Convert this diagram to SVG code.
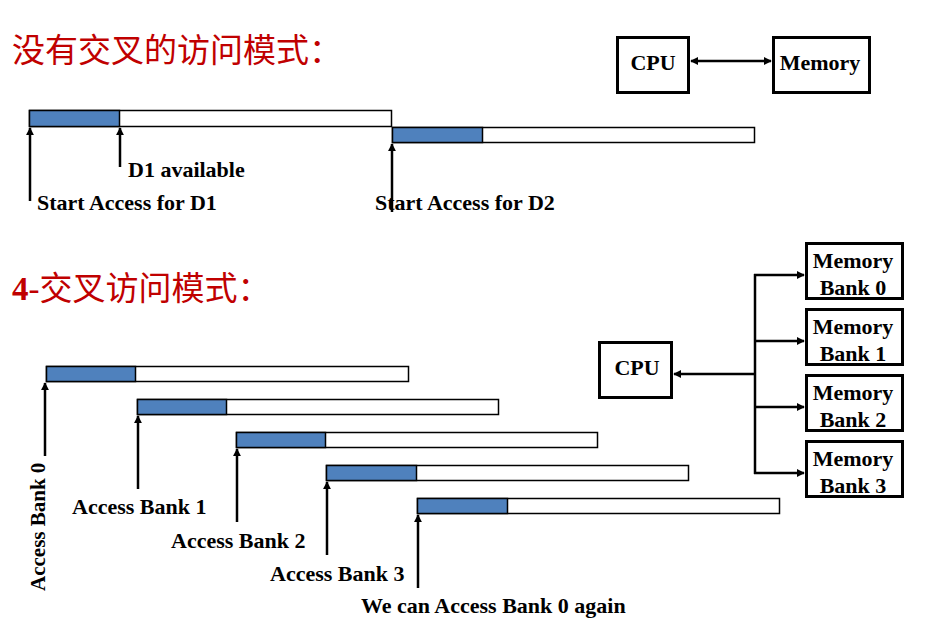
<svg xmlns="http://www.w3.org/2000/svg" width="925" height="623" viewBox="0 0 925 623">
<style>
.title{font-family:"Liberation Serif","Noto Sans CJK SC",serif;font-size:33px;fill:#C00000}
.lbl{font-family:"Liberation Serif",serif;font-size:22px;font-weight:bold;fill:#000}
.bar{fill:#fff;stroke:#000;stroke-width:1.5}
.blue{fill:#4F81BD;stroke:#000;stroke-width:1.5}
.box{fill:#fff;stroke:#000;stroke-width:3}
.ar{stroke:#000;stroke-width:2.5;fill:none;marker-end:url(#ah)}
.cn{stroke:#000;stroke-width:2.5;fill:none}
</style>
<defs>
<marker id="ah" viewBox="0 0 10 10" refX="9" refY="5" markerWidth="3.3" markerHeight="3.3" orient="auto" markerUnits="strokeWidth">
<path d="M0,0 L10,5 L0,10 Z" fill="#000"/>
</marker>
<marker id="as" viewBox="0 0 10 10" refX="1" refY="5" markerWidth="3.3" markerHeight="3.3" orient="auto" markerUnits="strokeWidth">
<path d="M10,0 L0,5 L10,10 Z" fill="#000"/>
</marker>
</defs>

<text class="title" x="12" y="62">没有交叉的访问模式：</text>
<text class="title" x="12" y="300"><tspan font-weight="bold">4</tspan>-交叉访问模式：</text>

<g id="timeline1">
<rect class="bar" x="29.5" y="110.5" width="362" height="16"/>
<rect class="blue" x="29.5" y="110.5" width="90" height="16"/>
<rect class="bar" x="392.5" y="127.5" width="362" height="15"/>
<rect class="blue" x="392.5" y="127.5" width="90" height="15"/>
</g>

<g id="timeline2">
<rect class="bar" x="46.5" y="366.5" width="362" height="15"/>
<rect class="blue" x="46.5" y="366.5" width="89" height="15"/>
<rect class="bar" x="137.5" y="399.5" width="361" height="15"/>
<rect class="blue" x="137.5" y="399.5" width="89" height="15"/>
<rect class="bar" x="236.5" y="432.5" width="361" height="15"/>
<rect class="blue" x="236.5" y="432.5" width="89" height="15"/>
<rect class="bar" x="326.5" y="465.5" width="362" height="15"/>
<rect class="blue" x="326.5" y="465.5" width="90" height="15"/>
<rect class="bar" x="417.5" y="498.5" width="362" height="15"/>
<rect class="blue" x="417.5" y="498.5" width="90" height="15"/>
</g>

<g id="cpu1"><rect class="box" x="617.5" y="37.5" width="71" height="55"/><text class="lbl" x="653" y="70" text-anchor="middle">CPU</text></g>
<g id="memory1"><rect class="box" x="773.5" y="37.5" width="96" height="55"/><text class="lbl" x="820" y="70" text-anchor="middle">Memory</text></g>

<g id="cpu2"><rect class="box" x="599.5" y="342.5" width="72" height="55"/><text class="lbl" x="637" y="375" text-anchor="middle">CPU</text></g>
<g id="bank0"><rect class="box" x="806.5" y="243.5" width="96" height="55"/><text class="lbl" x="853" y="268" text-anchor="middle">Memory</text><text class="lbl" x="853" y="295" text-anchor="middle">Bank 0</text></g>
<g id="bank1"><rect class="box" x="806.5" y="309.5" width="96" height="55"/><text class="lbl" x="853" y="334" text-anchor="middle">Memory</text><text class="lbl" x="853" y="361" text-anchor="middle">Bank 1</text></g>
<g id="bank2"><rect class="box" x="806.5" y="375.5" width="96" height="55"/><text class="lbl" x="853" y="400" text-anchor="middle">Memory</text><text class="lbl" x="853" y="427" text-anchor="middle">Bank 2</text></g>
<g id="bank3"><rect class="box" x="806.5" y="441.5" width="96" height="55"/><text class="lbl" x="853" y="466" text-anchor="middle">Memory</text><text class="lbl" x="853" y="493" text-anchor="middle">Bank 3</text></g>

<g id="connectors">
<line class="ar" x1="30" y1="201" x2="30" y2="128"/>
<line class="ar" x1="120" y1="167" x2="120" y2="128"/>
<line class="ar" x1="392" y1="212" x2="392" y2="144"/>
<line class="ar" x1="45" y1="456" x2="45" y2="383"/>
<line class="ar" x1="138" y1="489" x2="138" y2="416"/>
<line class="ar" x1="237" y1="522" x2="237" y2="449"/>
<line class="ar" x1="327" y1="555" x2="327" y2="482"/>
<line class="ar" x1="418" y1="588" x2="418" y2="515"/>
<line class="ar" x1="691" y1="61" x2="771" y2="61" style="marker-start:url(#as)"/>
<line class="cn" x1="755" y1="274" x2="755" y2="474"/>
<line class="ar" x1="754" y1="275" x2="804" y2="275"/>
<line class="ar" x1="754" y1="341" x2="804" y2="341"/>
<line class="ar" x1="754" y1="407" x2="804" y2="407"/>
<line class="ar" x1="754" y1="473" x2="804" y2="473"/>
<line class="ar" x1="756" y1="374" x2="674" y2="374"/>
</g>

<g id="labels">
<text class="lbl" x="128" y="177">D1 available</text>
<text class="lbl" x="37" y="210">Start Access for D1</text>
<text class="lbl" x="375" y="210">Start Access for D2</text>
<text class="lbl" transform="translate(45,591) rotate(-90)" style="font-size:21px">Access Bank 0</text>
<text class="lbl" x="72" y="514">Access Bank 1</text>
<text class="lbl" x="171" y="548">Access Bank 2</text>
<text class="lbl" x="270" y="581">Access Bank 3</text>
<text class="lbl" x="361" y="613">We can Access Bank 0 again</text>
</g>
</svg>
